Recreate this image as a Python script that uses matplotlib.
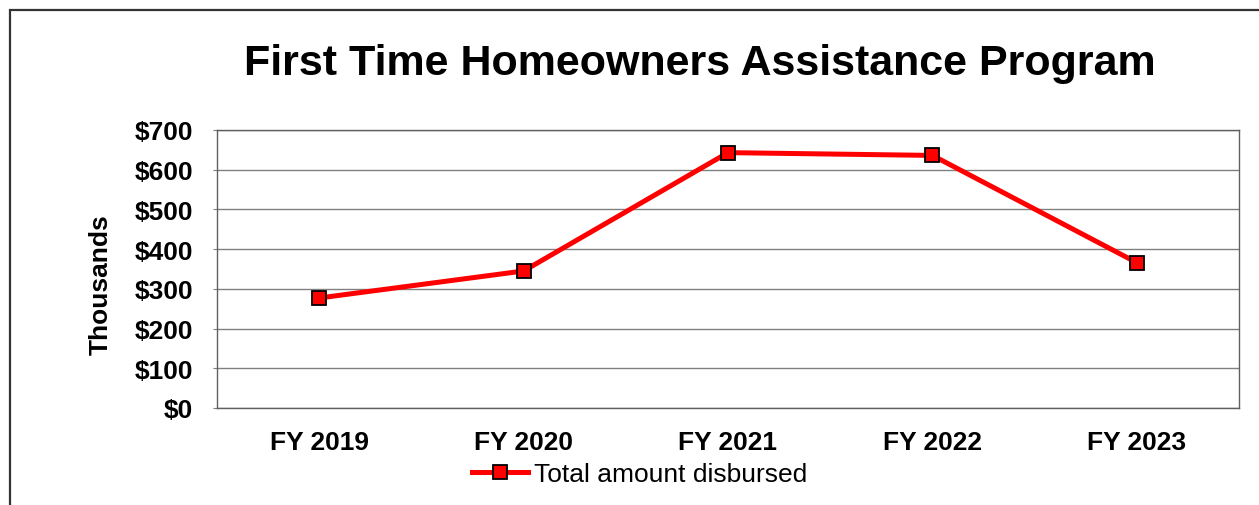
import matplotlib
matplotlib.use("Agg")
import matplotlib.pyplot as plt
from matplotlib.patches import Rectangle

categories = ["FY 2019", "FY 2020", "FY 2021", "FY 2022", "FY 2023"]
values = [277, 345, 643, 636, 366]
yticks = [0, 100, 200, 300, 400, 500, 600, 700]
ytick_labels = ["$0", "$100", "$200", "$300", "$400", "$500", "$600", "$700"]

plt.rcParams['font.family'] = ['Liberation Sans', 'DejaVu Sans']

W, H = 1259, 506
fig = plt.figure(figsize=(W / 100, H / 100), dpi=100)

# outer chart border (only left and top visible)
fig.patches.append(Rectangle((10.5 / W, -0.1), 1.2, 1 - 10.5 / H + 0.1,
                             transform=fig.transFigure, fill=False,
                             edgecolor="#333333", linewidth=1.6, zorder=0))

left, right, top, bottom = 217, 1239, 131, 409
ax = fig.add_axes([left / W, 1 - bottom / H, (right - left) / W, (bottom - top) / H])

x = list(range(len(categories)))
ax.plot(x, values, color="#ff0000", linewidth=3.6, marker="s", markersize=9.5,
        markerfacecolor="#ff0000", markeredgecolor="black", markeredgewidth=1.3,
        label="Total amount disbursed", zorder=3, clip_on=False)

ax.set_xlim(-0.5, len(categories) - 0.5)
ax.set_ylim(0, 700)
ax.set_yticks(yticks)
ax.set_yticklabels(ytick_labels, fontsize=19, fontweight="bold")
ax.set_xticks(x)
ax.set_xticklabels(categories, fontsize=19, fontweight="bold")
ax.tick_params(axis="x", length=0, pad=16)
ax.tick_params(axis="y", length=3, pad=14, color="#808080")
ax.yaxis.grid(True, color="#808080", linewidth=1.0)
ax.set_axisbelow(True)
for s in ax.spines.values():
    s.set_color("#606060")
    s.set_linewidth(1.0)

ax.set_ylabel("Thousands", fontsize=19, fontweight="bold", va="center")
ax.yaxis.set_label_coords((101 - left) / (right - left), (bottom - 285) / (bottom - top))

fig.text(700 / W, 1 - 64 / H, "First Time Homeowners Assistance Program",
         fontsize=31, fontweight="bold", ha="center", va="center")

leg = fig.legend(loc="center", bbox_to_anchor=(640 / W, 1 - 475 / H), frameon=False,
                 fontsize=19, handlelength=2.1, handletextpad=0.25, borderpad=0)

fig.savefig("out.png", dpi=100)
